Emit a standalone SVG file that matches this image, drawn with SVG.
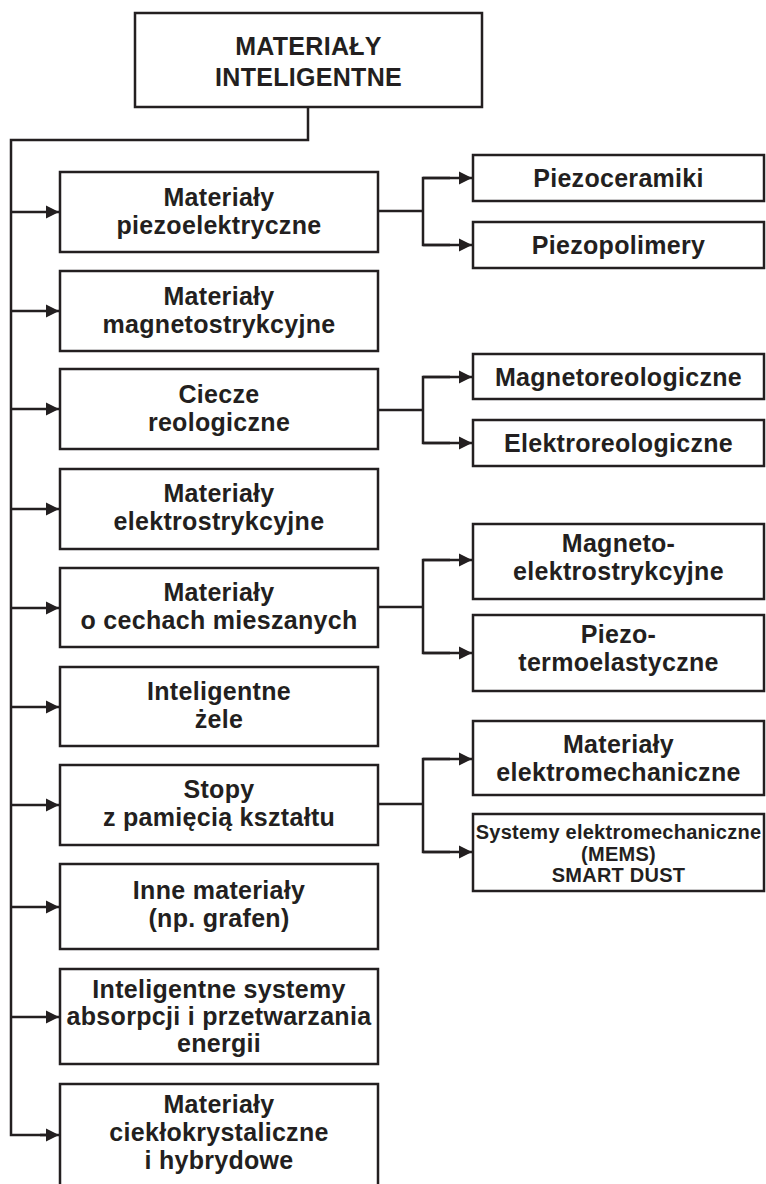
<svg xmlns="http://www.w3.org/2000/svg" width="766" height="1184" viewBox="0 0 766 1184">
  <style>
    .box { fill: #ffffff; stroke: #231f20; stroke-width: 2.5; }
    .wire { fill: none; stroke: #231f20; stroke-width: 2.5; }
    text { font-family: "Liberation Sans", Arial, sans-serif; font-weight: bold; fill: #231f20; text-anchor: middle; }
    .t { font-size: 25px; letter-spacing: 0.3px; }
    .h { font-size: 25px; letter-spacing: 0.3px; }
    .s { font-size: 20px; letter-spacing: 0.25px; }
  </style>
  <defs>
    <marker id="arrow" markerUnits="userSpaceOnUse" markerWidth="14" markerHeight="14" refX="13" refY="7" orient="auto">
      <path d="M0,0.5 L13,7 L0,13.5 Z" fill="#231f20"/>
    </marker>
  </defs>
  <rect width="766" height="1184" fill="#ffffff"/>

  <g id="connectors">
    <!-- root to trunk -->
    <polyline class="wire" points="308,107 308,140 11,140 11,1135 47,1135"/>
    <!-- trunk branches -->
    <line class="wire" x1="11" y1="212" x2="59" y2="212" marker-end="url(#arrow)"/>
    <line class="wire" x1="11" y1="311" x2="59" y2="311" marker-end="url(#arrow)"/>
    <line class="wire" x1="11" y1="409" x2="59" y2="409" marker-end="url(#arrow)"/>
    <line class="wire" x1="11" y1="509" x2="59" y2="509" marker-end="url(#arrow)"/>
    <line class="wire" x1="11" y1="608" x2="59" y2="608" marker-end="url(#arrow)"/>
    <line class="wire" x1="11" y1="707" x2="59" y2="707" marker-end="url(#arrow)"/>
    <line class="wire" x1="11" y1="805" x2="59" y2="805" marker-end="url(#arrow)"/>
    <line class="wire" x1="11" y1="907" x2="59" y2="907" marker-end="url(#arrow)"/>
    <line class="wire" x1="11" y1="1017" x2="59" y2="1017" marker-end="url(#arrow)"/>
    <line class="wire" x1="40" y1="1135" x2="59" y2="1135" marker-end="url(#arrow)"/>
    <!-- piezoelectric split -->
    <line class="wire" x1="378" y1="211" x2="423" y2="211"/>
    <polyline class="wire" points="450,178 423,178 423,245 450,245"/>
    <line class="wire" x1="423" y1="178" x2="472" y2="178" marker-end="url(#arrow)"/>
    <line class="wire" x1="423" y1="245" x2="472" y2="245" marker-end="url(#arrow)"/>
    <!-- rheological split -->
    <line class="wire" x1="378" y1="410" x2="423" y2="410"/>
    <polyline class="wire" points="450,377 423,377 423,443 450,443"/>
    <line class="wire" x1="423" y1="377" x2="472" y2="377" marker-end="url(#arrow)"/>
    <line class="wire" x1="423" y1="443" x2="472" y2="443" marker-end="url(#arrow)"/>
    <!-- mixed split -->
    <line class="wire" x1="378" y1="607" x2="423" y2="607"/>
    <polyline class="wire" points="450,560 423,560 423,653 450,653"/>
    <line class="wire" x1="423" y1="560" x2="472" y2="560" marker-end="url(#arrow)"/>
    <line class="wire" x1="423" y1="653" x2="472" y2="653" marker-end="url(#arrow)"/>
    <!-- shape memory split -->
    <line class="wire" x1="378" y1="804" x2="423" y2="804"/>
    <polyline class="wire" points="450,759 423,759 423,852 450,852"/>
    <line class="wire" x1="423" y1="759" x2="472" y2="759" marker-end="url(#arrow)"/>
    <line class="wire" x1="423" y1="852" x2="472" y2="852" marker-end="url(#arrow)"/>
  </g>

  <g id="root">
    <rect class="box" x="135" y="13" width="347" height="94"/>
    <text class="h" x="308.5" y="55">MATERIAŁY</text>
    <text class="h" x="308.5" y="86">INTELIGENTNE</text>
  </g>

  <g id="piezoelektryczne">
    <rect class="box" x="60" y="172" width="318" height="80"/>
    <text class="t" x="219" y="206">Materiały</text>
    <text class="t" x="219" y="234">piezoelektryczne</text>
  </g>
  <g id="magnetostrykcyjne">
    <rect class="box" x="60" y="271" width="318" height="80"/>
    <text class="t" x="219" y="305">Materiały</text>
    <text class="t" x="219" y="333">magnetostrykcyjne</text>
  </g>
  <g id="ciecze">
    <rect class="box" x="60" y="369" width="318" height="80"/>
    <text class="t" x="219" y="403">Ciecze</text>
    <text class="t" x="219" y="431">reologiczne</text>
  </g>
  <g id="elektrostrykcyjne">
    <rect class="box" x="60" y="469" width="318" height="80"/>
    <text class="t" x="219" y="502">Materiały</text>
    <text class="t" x="219" y="530">elektrostrykcyjne</text>
  </g>
  <g id="mieszane">
    <rect class="box" x="60" y="568" width="318" height="79"/>
    <text class="t" x="219" y="601">Materiały</text>
    <text class="t" x="219" y="629">o cechach mieszanych</text>
  </g>
  <g id="zele">
    <rect class="box" x="60" y="667" width="318" height="79"/>
    <text class="t" x="219" y="700">Inteligentne</text>
    <text class="t" x="219" y="728">żele</text>
  </g>
  <g id="stopy">
    <rect class="box" x="60" y="765" width="318" height="80"/>
    <text class="t" x="219" y="798">Stopy</text>
    <text class="t" x="219" y="826">z pamięcią kształtu</text>
  </g>
  <g id="inne">
    <rect class="box" x="60" y="864" width="318" height="85"/>
    <text class="t" x="219" y="899">Inne materiały</text>
    <text class="t" x="219" y="927">(np. grafen)</text>
  </g>
  <g id="systemy-energii">
    <rect class="box" x="60" y="969" width="318" height="95"/>
    <text class="t" x="219" y="997.5">Inteligentne systemy</text>
    <text class="t" x="219" y="1024.5">absorpcji i przetwarzania</text>
    <text class="t" x="219" y="1051.5">energii</text>
  </g>
  <g id="ciekle-krysztaly">
    <rect class="box" x="60" y="1084" width="318" height="102"/>
    <text class="t" x="219" y="1113">Materiały</text>
    <text class="t" x="219" y="1141">ciekłokrystaliczne</text>
    <text class="t" x="219" y="1169">i hybrydowe</text>
  </g>

  <g id="piezoceramiki">
    <rect class="box" x="473" y="155" width="291" height="46"/>
    <text class="t" x="618.5" y="187">Piezoceramiki</text>
  </g>
  <g id="piezopolimery">
    <rect class="box" x="473" y="222" width="291" height="46"/>
    <text class="t" x="618.5" y="254">Piezopolimery</text>
  </g>
  <g id="magnetoreologiczne">
    <rect class="box" x="473" y="354" width="291" height="45"/>
    <text class="t" x="618.5" y="385.5">Magnetoreologiczne</text>
  </g>
  <g id="elektroreologiczne">
    <rect class="box" x="473" y="420" width="291" height="46"/>
    <text class="t" x="618.5" y="452">Elektroreologiczne</text>
  </g>
  <g id="magneto-elektrostrykcyjne">
    <rect class="box" x="473" y="524" width="291" height="75"/>
    <text class="t" x="618.5" y="552">Magneto-</text>
    <text class="t" x="618.5" y="580">elektrostrykcyjne</text>
  </g>
  <g id="piezo-termoelastyczne">
    <rect class="box" x="473" y="615" width="291" height="76"/>
    <text class="t" x="618.5" y="643">Piezo-</text>
    <text class="t" x="618.5" y="671">termoelastyczne</text>
  </g>
  <g id="elektromechaniczne">
    <rect class="box" x="473" y="721" width="291" height="74"/>
    <text class="t" x="618.5" y="753">Materiały</text>
    <text class="t" x="618.5" y="781">elektromechaniczne</text>
  </g>
  <g id="mems">
    <rect class="box" x="473" y="814" width="291" height="77"/>
    <text class="s" x="618.5" y="839">Systemy elektromechaniczne</text>
    <text class="s" x="618.5" y="861">(MEMS)</text>
    <text class="s" x="618.5" y="882">SMART DUST</text>
  </g>
</svg>
